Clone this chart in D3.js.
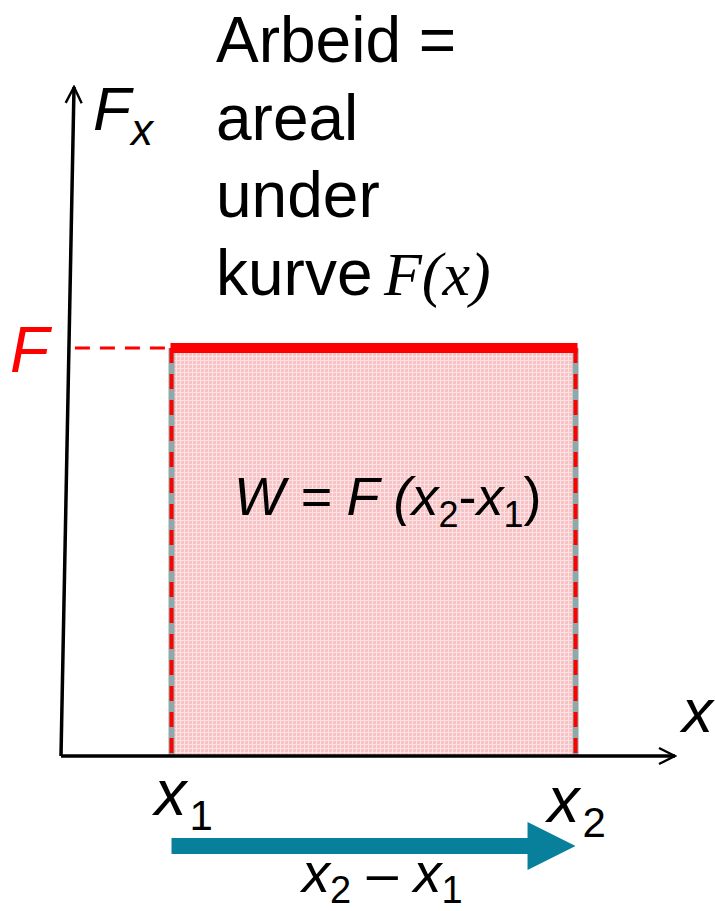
<!DOCTYPE html>
<html lang="en">
<head>
<meta charset="UTF-8">
<title>Arbeid = areal under kurve</title>
<script src="https://cdnjs.cloudflare.com/ajax/libs/d3/7.8.5/d3.min.js"></script>
<style>
    body { margin: 0; background: #fff; }
    svg { display: block; }
    .sans { font-family: "Liberation Sans", Arial, sans-serif; }
    .serif { font-family: "Liberation Serif", "Times New Roman", serif; }
</style>
</head>
<body>
<div id="chart"></div>
<script>
    const width = 715;
    const height = 911;

    // positions on the x axis (0..100) and the constant force (0..100)
    const xDomain = [0, 100];
    const yDomain = [0, 100];
    const xPoints = [18, 83.8];       // x1, x2
    const xLabels = ["1", "2"];
    const forceValue = [61];          // F
    const titleLines = ["Arbeid =", "areal", "under", "kurve"];

    const x = d3.scaleLinear().domain(xDomain).range([61, 675]);
    const y = d3.scaleLinear().domain(yDomain).range([756, 87]);
    const yTilt = 13; // y-axis leans slightly to the right at the top

    const svg = d3.select("#chart").append("svg")
        .attr("width", width)
        .attr("height", height);

    const defs = svg.append("defs");

    // pinkish grid texture inside the area
    const pat = defs.append("pattern")
        .attr("id", "grid")
        .attr("width", 4).attr("height", 4)
        .attr("patternUnits", "userSpaceOnUse");
    pat.append("rect").attr("width", 4).attr("height", 4).attr("fill", "#f8c3c6");
    pat.append("rect").attr("width", 1).attr("height", 4).attr("fill", "#fde2e4");
    pat.append("rect").attr("width", 4).attr("height", 1).attr("fill", "#fde2e4");

    defs.append("marker")
        .attr("id", "open-arrow")
        .attr("viewBox", "0 0 20 20")
        .attr("refX", 18).attr("refY", 10)
        .attr("markerWidth", 20).attr("markerHeight", 20)
        .attr("markerUnits", "userSpaceOnUse")
        .attr("orient", "auto")
        .append("path")
        .attr("d", "M2,2 L18,10 L2,18")
        .attr("fill", "none")
        .attr("stroke", "#000")
        .attr("stroke-width", 2.4);

    const x1 = xPoints[0], x2 = xPoints[1];
    const F = forceValue[0];

    // area under F(x)
    svg.append("rect")
        .attr("x", x(x1))
        .attr("y", y(F))
        .attr("width", x(x2) - x(x1))
        .attr("height", y(0) - y(F))
        .attr("fill", "url(#grid)");

    // vertical bounds: grey line with red dashes over it
    xPoints.forEach(v => {
        svg.append("line")
            .attr("x1", x(v)).attr("x2", x(v))
            .attr("y1", y(F)).attr("y2", y(0))
            .attr("stroke", "#8fa8a9")
            .attr("stroke-width", 6);
        svg.append("line")
            .attr("x1", x(v)).attr("x2", x(v))
            .attr("y1", y(F)).attr("y2", y(0))
            .attr("stroke", "#ff0000")
            .attr("stroke-width", 4)
            .attr("stroke-dasharray", "15 11");
    });

    // axes
    svg.append("line")
        .attr("x1", x(0)).attr("y1", y(0))
        .attr("x2", x(xDomain[1])).attr("y2", y(0))
        .attr("stroke", "#000").attr("stroke-width", 3.5)
        .attr("marker-end", "url(#open-arrow)");

    svg.append("line")
        .attr("x1", x(0)).attr("y1", y(0))
        .attr("x2", x(0) + yTilt).attr("y2", y(yDomain[1]))
        .attr("stroke", "#000").attr("stroke-width", 3.5)
        .attr("marker-end", "url(#open-arrow)");

    // dashed guide to F on the y axis
    svg.append("line")
        .attr("x1", x(0) + yTilt * F / yDomain[1] + 6).attr("x2", x(x1))
        .attr("y1", y(F)).attr("y2", y(F))
        .attr("stroke", "#ff0000")
        .attr("stroke-width", 3)
        .attr("stroke-dasharray", "15 10");

    // the force curve F(x) = F
    svg.append("line")
        .attr("x1", x(x1) - 1).attr("x2", x(x2) + 2)
        .attr("y1", y(F)).attr("y2", y(F))
        .attr("stroke", "#ff0000")
        .attr("stroke-width", 10);

    // displacement arrow x2 - x1
    const arrowY = 846;
    const head = 48;
    svg.append("path")
        .attr("d", `M${x(x1)},${arrowY - 8} L${x(x2) - head},${arrowY - 8} L${x(x2) - head},${arrowY - 24}
                    L${x(x2)},${arrowY} L${x(x2) - head},${arrowY + 24} L${x(x2) - head},${arrowY + 8}
                    L${x(x1)},${arrowY + 8} Z`)
        .attr("fill", "#087f9b");

    // texts
    const title = svg.append("text")
        .attr("class", "sans")
        .attr("x", 216)
        .attr("font-size", 64)
        .attr("fill", "#000");
    titleLines.forEach((t, i) => {
        title.append("tspan")
            .attr("x", 216)
            .attr("y", 62 + i * 77.5)
            .text(t);
    });
    svg.append("text")
        .attr("class", "serif")
        .attr("x", 384).attr("y", 294.5)
        .attr("font-size", 62)
        .attr("font-style", "italic")
        .text("F(x)");

    // y axis label Fx
    const fx = svg.append("text")
        .attr("class", "sans")
        .attr("x", 93).attr("y", 130)
        .attr("font-size", 62)
        .attr("font-style", "italic");
    fx.append("tspan").text("F");
    fx.append("tspan").attr("font-size", 44).attr("dy", 15).text("x");

    // x axis label
    svg.append("text")
        .attr("class", "sans")
        .attr("x", 682).attr("y", 732)
        .attr("font-size", 62)
        .attr("font-style", "italic")
        .text("x");

    // F on the y axis
    svg.append("text")
        .attr("class", "sans")
        .attr("x", 10).attr("y", y(F) + 24)
        .attr("font-size", 64)
        .attr("font-style", "italic")
        .attr("fill", "#ff0000")
        .text("F");

    // x1, x2 tick labels
    const tickDx = [-17, -28];
    const tickBase = [815, 822];
    xPoints.forEach((v, i) => {
        const t = svg.append("text")
            .attr("class", "sans")
            .attr("x", x(v) + tickDx[i]).attr("y", tickBase[i])
            .attr("font-size", 64)
            .attr("font-style", "italic");
        t.append("tspan").text("x");
        t.append("tspan").attr("font-style", "normal").attr("font-size", 42)
            .attr("dx", 3).attr("dy", 15).text(xLabels[i]);
    });

    // formula inside the area
    const w = svg.append("text")
        .attr("class", "sans")
        .attr("x", 234).attr("y", 515)
        .attr("font-size", 54)
        .attr("font-style", "italic");
    w.append("tspan").text("W = F (x");
    w.append("tspan").attr("font-style", "normal").attr("font-size", 36).attr("dy", 12).text("2");
    w.append("tspan").attr("font-style", "normal").attr("dy", -12).text("-");
    w.append("tspan").text("x");
    w.append("tspan").attr("font-style", "normal").attr("font-size", 36).attr("dy", 12).text("1");
    w.append("tspan").attr("font-style", "normal").attr("dy", -12).text(")");

    // label under the arrow
    const d = svg.append("text")
        .attr("class", "sans")
        .attr("x", 302).attr("y", 892)
        .attr("font-size", 56)
        .attr("font-style", "italic");
    d.append("tspan").text("x");
    d.append("tspan").attr("font-style", "normal").attr("font-size", 38).attr("dy", 11).text("2");
    d.append("tspan").attr("font-style", "normal").attr("dy", -11).text(" \u2013 ");
    d.append("tspan").text("x");
    d.append("tspan").attr("font-style", "normal").attr("font-size", 38).attr("dy", 11).text("1");
</script>
</body>
</html>
